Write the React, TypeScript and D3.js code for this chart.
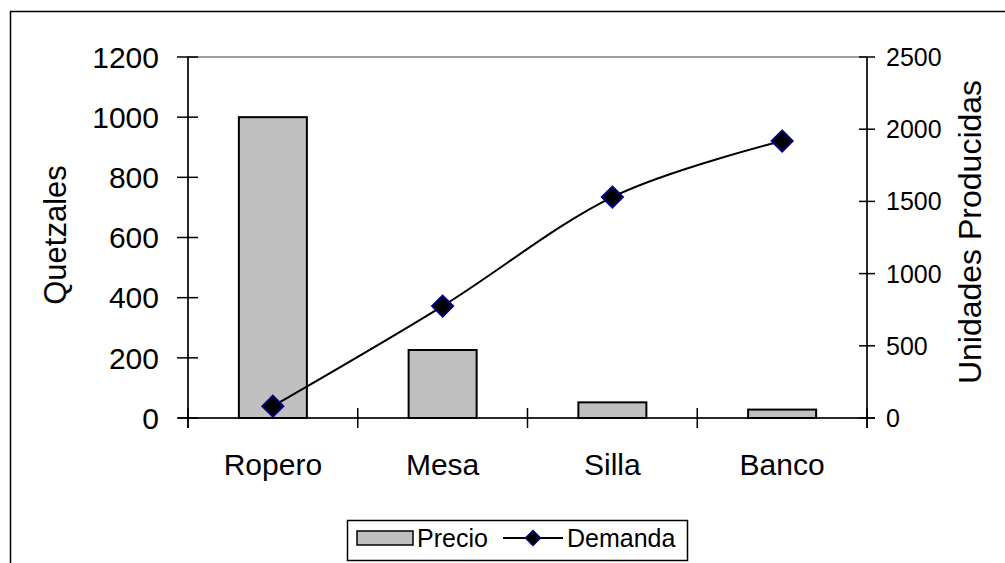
import React from "react";
import * as d3 from "d3";

const categories = ["Ropero", "Mesa", "Silla", "Banco"];
const precio = [1000, 226, 52, 28];
const demanda = [82, 775, 1530, 1918];
const leftTicks = [0, 200, 400, 600, 800, 1000, 1200];
const rightTicks = [0, 500, 1000, 1500, 2000, 2500];

const W = 1005;
const H = 563;
const plot = { left: 188, right: 867, top: 57, bottom: 418 };
const FONT = "Arial, 'Liberation Sans', sans-serif";

export default function App() {
  const x = d3
    .scaleBand<string>()
    .domain(categories)
    .range([plot.left, plot.right])
    .paddingInner(0.6)
    .paddingOuter(0.3);
  const xBand = d3.scaleBand<string>().domain(categories).range([plot.left, plot.right]);
  const yL = d3.scaleLinear().domain([0, 1200]).range([plot.bottom, plot.top]);
  const yR = d3.scaleLinear().domain([0, 2500]).range([plot.bottom, plot.top]);
  const cx = (c: string) => (xBand(c) as number) + xBand.bandwidth() / 2;
  const barW = 68;

  const line = d3
    .line<number>()
    .x((_, i) => cx(categories[i]))
    .y((d) => yR(d))
    .curve(d3.curveCardinal.tension(0));

  const diamond = (px: number, py: number, r: number) =>
    `M${px},${py - r}L${px + r},${py}L${px},${py + r}L${px - r},${py}Z`;

  const catTicks = d3.range(categories.length + 1).map((i) => plot.left + i * xBand.step());

  return (
    <svg
      width={W}
      height={H}
      style={{ position: "absolute", left: 0, top: 0, background: "#fff" }}
      fontFamily={FONT}
    >
      <rect x={0} y={0} width={W} height={H} fill="#fff" />
      {/* outer chart border */}
      <rect x={10.5} y={11.5} width={1100} height={700} fill="none" stroke="#000" strokeWidth={1.5} />
      {/* plot area border */}
      <rect
        x={plot.left}
        y={plot.top}
        width={plot.right - plot.left}
        height={plot.bottom - plot.top}
        fill="none"
        stroke="#808080"
        strokeWidth={1.5}
      />
      {/* bars */}
      {categories.map((c, i) => (
        <rect
          key={c}
          x={cx(c) - barW / 2}
          y={yL(precio[i])}
          width={barW}
          height={plot.bottom - yL(precio[i])}
          fill="#c0c0c0"
          stroke="#000"
          strokeWidth={2}
        />
      ))}
      {/* axes */}
      <line x1={plot.left} x2={plot.left} y1={plot.top} y2={plot.bottom + 10} stroke="#000" strokeWidth={1.5} />
      <line x1={plot.right} x2={plot.right} y1={plot.top} y2={plot.bottom + 10} stroke="#000" strokeWidth={1.5} />
      <line x1={plot.left - 10} x2={plot.right + 8} y1={plot.bottom} y2={plot.bottom} stroke="#000" strokeWidth={1.5} />
      {leftTicks.map((t) => (
        <g key={"l" + t}>
          <line x1={plot.left - 11} x2={plot.left + 10} y1={yL(t)} y2={yL(t)} stroke="#000" strokeWidth={1.5} />
          <text x={159} y={yL(t)} dy="0.36em" textAnchor="end" fontSize={30} fill="#000">
            {t}
          </text>
        </g>
      ))}
      {rightTicks.map((t) => (
        <g key={"r" + t}>
          <line x1={plot.right - 8} x2={plot.right + 8} y1={yR(t)} y2={yR(t)} stroke="#000" strokeWidth={1.5} />
          <text x={886} y={yR(t)} dy="0.36em" textAnchor="start" fontSize={25} fill="#000">
            {t}
          </text>
        </g>
      ))}
      {catTicks.map((t, i) => (
        <line key={"c" + i} x1={t} x2={t} y1={plot.bottom - 10} y2={plot.bottom + 10} stroke="#000" strokeWidth={1.5} />
      ))}
      {categories.map((c) => (
        <text key={"t" + c} x={cx(c)} y={475} textAnchor="middle" fontSize={30} fill="#000">
          {c}
        </text>
      ))}
      {/* demand line */}
      <path d={line(demanda) || ""} fill="none" stroke="#000" strokeWidth={2} />
      {demanda.map((d, i) => (
        <path
          key={"m" + i}
          d={diamond(cx(categories[i]), yR(d), 10.5)}
          fill="#000"
          stroke="#000080"
          strokeWidth={2}
        />
      ))}
      {/* axis titles */}
      <text
        transform={`translate(66,235) rotate(-90)`}
        textAnchor="middle"
        fontSize={31}
        fill="#000"
      >
        Quetzales
      </text>
      <text
        transform={`translate(981,232) rotate(-90)`}
        textAnchor="middle"
        fontSize={32}
        fill="#000"
      >
        Unidades Producidas
      </text>
      {/* legend */}
      <rect x={347.5} y={520.5} width={340} height={40} fill="#fff" stroke="#000" strokeWidth={1.5} />
      <rect x={357} y={531} width={56} height={14} fill="#c0c0c0" stroke="#000" strokeWidth={1.5} />
      <text x={417} y={547} fontSize={25} fill="#000">
        Precio
      </text>
      <line x1={503} x2={563} y1={538} y2={538} stroke="#000" strokeWidth={2} />
      <path d={diamond(533, 538, 7.5)} fill="#000" stroke="#000080" strokeWidth={1.5} />
      <text x={567} y={547} fontSize={25} fill="#000">
        Demanda
      </text>
    </svg>
  );
}
